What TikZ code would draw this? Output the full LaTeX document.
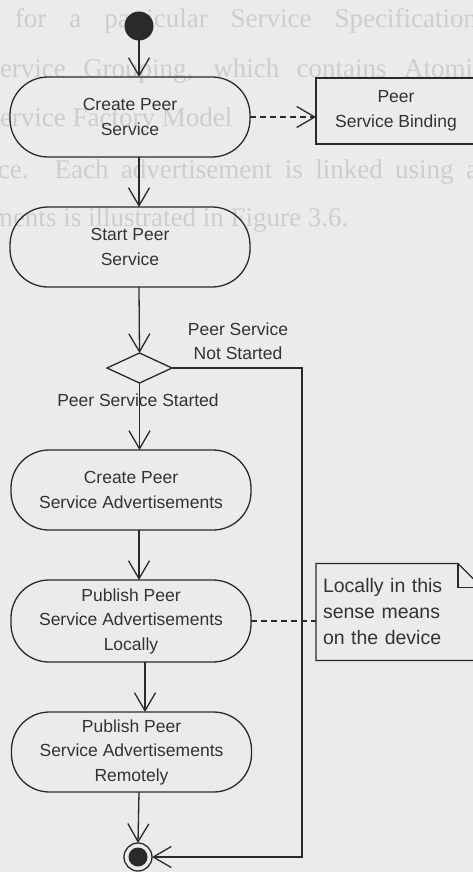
\documentclass[tikz,border=0pt]{standalone}
\usepackage{fontspec}
\setmainfont{Liberation Sans}
\newfontfamily\ghostfont{Liberation Serif}
\usetikzlibrary{arrows.meta,shapes.geometric,calc}

\definecolor{paper}{HTML}{EBEBEB}
\definecolor{ink}{HTML}{2A2A2A}
\definecolor{txt}{HTML}{333333}
\definecolor{ghost}{HTML}{CDCDCD}

\newcommand{\diagfont}{\fontsize{17.5}{24.5}\selectfont}
\newcommand{\notefont}{\fontsize{19.5}{26}\selectfont}
\newcommand{\pagefont}{\ghostfont\fontsize{27}{27}\selectfont}

\begin{document}
\begin{tikzpicture}[x=1pt,y=-1pt,
  every node/.style={inner sep=0pt,outer sep=0pt},
  activity/.style={draw=ink,line width=1.3pt,rounded corners=38pt,
    minimum width=240pt,minimum height=80pt,align=center,text=txt,font=\diagfont},
  objbox/.style={draw=ink,line width=1.3pt,minimum width=160pt,minimum height=66pt,
    align=center,text=txt,font=\diagfont},
  decision/.style={diamond,draw=ink,line width=1.3pt,minimum width=65pt,minimum height=30pt},
  guard/.style={align=center,text=txt,font=\diagfont},
  flow/.style={draw=ink,line width=1.3pt,
    -{Straight Barb[length=18pt,width=21pt,line width=1.3pt]}},
  depend/.style={flow,dash pattern=on 6pt off 4pt},
  anchorline/.style={draw=ink,line width=1.3pt,dash pattern=on 6pt off 4pt},
  pageline/.style={anchor=base west,text=ghost,font=\pagefont},
]
% paper
\fill[paper] (0,0) rectangle (473,872);
\useasboundingbox (0,0) rectangle (473,872);

% text of the page showing through
\node[pageline] (pg1) at (15,28)  {\makebox[462pt][s]{for a particular Service Specification}};
\node[pageline] (pg2) at (-15,78) {\makebox[500pt][s]{Service Grouping, which contains Atomic}};
\node[pageline] (pg3) at (-15,127) {Service Factory Model};
\node[pageline] (pg4) at (-2,178) {\makebox[480pt][s]{ce. Each advertisement is linked using a}};
\node[pageline] (pg5) at (-8,226) {ments is illustrated in Figure 3.6.};

% helper axes for the vertical flow
\coordinate (axis) at (139,0);
\coordinate (axisb) at (145,0);

% initial node
\node[circle,fill=ink,minimum size=29pt] (init) at (139,26) {};

% activities
\node[activity] (create) at (130,117) {Create Peer\\Service};
\node[activity] (startp) at (130,247) {Start Peer\\Service};
\node[decision] (dec) at (139.5,368) {};
\node[activity] (adv) at (131,490) {Create Peer\\Service Advertisements};
\node[activity,minimum height=82pt] (local) at (131,621)
  {Publish Peer\\Service Advertisements\\Locally};
\node[activity] (remote) at (131.5,752)
  {Publish Peer\\Service Advertisements\\Remotely};

% object produced by the first activity
\node[objbox] (binding) at (396,111) {Peer\\Service Binding};

% comment note
\node[minimum width=166pt,minimum height=97pt,text width=152pt,inner xsep=7pt,
  align=left,text=txt,font=\notefont] (note) at (399,612)
  {Locally in this\\sense means\\on the device};
\draw[ink,line width=1.3pt,line join=miter]
  (note.north west) -- ($(note.north east)+(-24,0)$) -- ($(note.north east)+(0,24)$)
  -- (note.south east) -- (note.south west) -- cycle;
\draw[ink,line width=1.3pt]
  ($(note.north east)+(-24,0)$) -- ($(note.north east)+(-24,24)$) -- ($(note.north east)+(0,24)$);

% final node
\node[circle,draw=ink,line width=1.3pt,minimum size=28pt] (fin) at (138,857) {};
\node[circle,fill=ink,minimum size=19pt] (finDot) at (fin.center) {};

% corner of the "not started" branch
\coordinate (rail) at (302,857);

% guards
\node[guard] (notStarted) at (238,341) {Peer Service\\Not Started};
\node[guard] (started) at (138,400) {Peer Service Started};

% control flow
\draw[flow] (init) -- (init |- create.north);
\draw[flow] (create.south -| axis) -- (startp.north -| axis);
\draw[flow] (startp.south -| axis) -- (dec.north);
\draw[flow] (dec.south) -- (adv.north -| dec.south);
\draw[flow] (adv.south -| axis) -- (local.north -| axis);
\draw[flow] (local.south -| axisb) -- (remote.north -| axisb);
\draw[flow] (remote.south -| axis) -- (fin.north);
\draw[flow] (dec.east) -| (rail) -- (fin.east);

% dependency and note anchor
\draw[depend] (create.east) -- (create.east -| binding.west);
\draw[anchorline] (local.east) -- (local.east -| note.west);
\end{tikzpicture}
\end{document}
